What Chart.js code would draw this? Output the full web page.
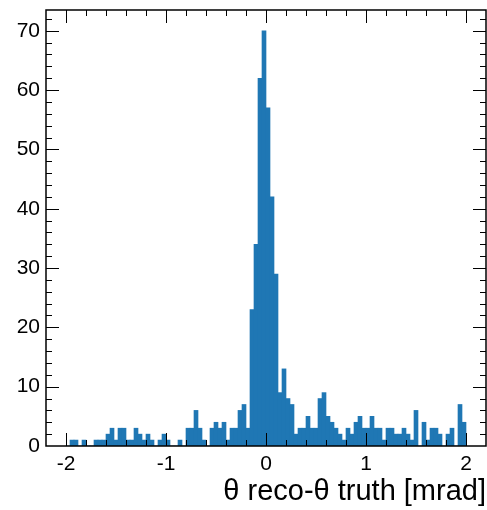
<!DOCTYPE html>
<html>
<head>
<meta charset="utf-8">
<script src="https://cdn.jsdelivr.net/npm/chart.js@4.4.1/dist/chart.umd.min.js"></script>
<style>
    html, body { margin: 0; padding: 0; background: #fff; }
    canvas { display: block; }
</style>
</head>
<body>
<canvas id="histChart" width="487" height="510"></canvas>
<script>
// theta reco - theta truth, 100 bins from -2 to 2 mrad
const binLow = -2;
const binWidth = 0.04;
const counts = [
    0, 1, 1, 0, 1, 0, 0, 1, 1, 1,
    2, 3, 1, 3, 3, 1, 1, 3, 2, 1,
    2, 1, 0, 1, 2, 1, 0, 0, 1, 0,
    3, 3, 6, 3, 1, 0, 3, 4, 3, 4,
    1, 3, 3, 6, 7, 3, 23, 34, 62, 70,
    57, 42, 29, 9, 13, 8, 7, 2, 3, 3,
    5, 3, 3, 8, 9, 5, 4, 3, 2, 1,
    3, 2, 4, 5, 3, 3, 5, 3, 3, 1,
    3, 3, 2, 2, 3, 2, 1, 6, 0, 4,
    1, 3, 3, 2, 0, 2, 3, 0, 7, 4,
];
const xTicks = [-2, -1, 0, 1, 2];
const yTicks = [0, 10, 20, 30, 40, 50, 60, 70];
const xLabel = "θ reco-θ truth [mrad]";

const points = counts.map((c, i) => ({ x: binLow + binWidth * (i + 0.5), y: c }));

// inward ticks on all four sides + black frame, like mplhep
const frameAndTicks = {
    id: "frameAndTicks",
    afterDraw(chart) {
        const { ctx, chartArea: a } = chart;
        const xs = chart.scales.x;
        const ys = chart.scales.y;
        const major = 13, minor = 6;
        ctx.save();
        ctx.strokeStyle = "#000";
        ctx.lineWidth = 1;
        ctx.beginPath();
        for (let k = -10; k <= 10; k++) {
            const px = Math.round(xs.getPixelForValue(k * 0.2)) + 0.5;
            const len = k % 5 === 0 ? major : minor;
            ctx.moveTo(px, a.bottom);
            ctx.lineTo(px, a.bottom - len);
            ctx.moveTo(px, a.top);
            ctx.lineTo(px, a.top + len);
        }
        for (let v = 2; v <= 72; v += 2) {
            const py = Math.round(ys.getPixelForValue(v)) + 0.5;
            const len = v % 10 === 0 ? major : minor;
            ctx.moveTo(a.left, py);
            ctx.lineTo(a.left + len, py);
            ctx.moveTo(a.right, py);
            ctx.lineTo(a.right - len, py);
        }
        ctx.stroke();
        ctx.lineWidth = 1.5;
        ctx.strokeRect(a.left, a.top, a.right - a.left, a.bottom - a.top);
        ctx.restore();
    },
};

new Chart(document.getElementById("histChart"), {
    type: "bar",
    data: {
        datasets: [
            {
                data: points,
                backgroundColor: "#1f77b4",
                borderWidth: 0,
                barPercentage: 1,
                categoryPercentage: 1,
            },
        ],
    },
    options: {
        responsive: false,
        animation: false,
        devicePixelRatio: 1,
        layout: { padding: { top: 10, right: 1, left: 0, bottom: 0 } },
        plugins: {
            legend: { display: false },
            tooltip: { enabled: false },
        },
        scales: {
            x: {
                type: "linear",
                offset: false,
                min: -2.2,
                max: 2.2,
                grid: { display: false, drawTicks: false, offset: false },
                border: { display: false },
                afterBuildTicks: (s) => { s.ticks = xTicks.map((v) => ({ value: v })); },
                afterFit: (s) => {
                    s.height = 64;
                    s.paddingLeft = 0;
                    s.paddingRight = 0;
                },
                ticks: {
                    color: "#000",
                    padding: 6,
                    maxRotation: 0,
                    font: { family: "Liberation Sans", size: 21 },
                    callback: (v) => String(v),
                },
                title: {
                    display: true,
                    text: xLabel,
                    align: "end",
                    color: "#000",
                    padding: { top: 0, bottom: 1 },
                    font: { family: "Liberation Sans", size: 29 },
                },
            },
            y: {
                min: 0,
                max: 73.5,
                grid: { display: false, drawTicks: false },
                border: { display: false },
                afterBuildTicks: (s) => { s.ticks = yTicks.map((v) => ({ value: v })); },
                afterFit: (s) => {
                    s.width = 46;
                    s.paddingTop = 0;
                    s.paddingBottom = 0;
                },
                ticks: {
                    color: "#000",
                    padding: 6,
                    font: { family: "Liberation Sans", size: 21 },
                },
            },
        },
    },
    plugins: [frameAndTicks],
});
</script>
</body>
</html>
